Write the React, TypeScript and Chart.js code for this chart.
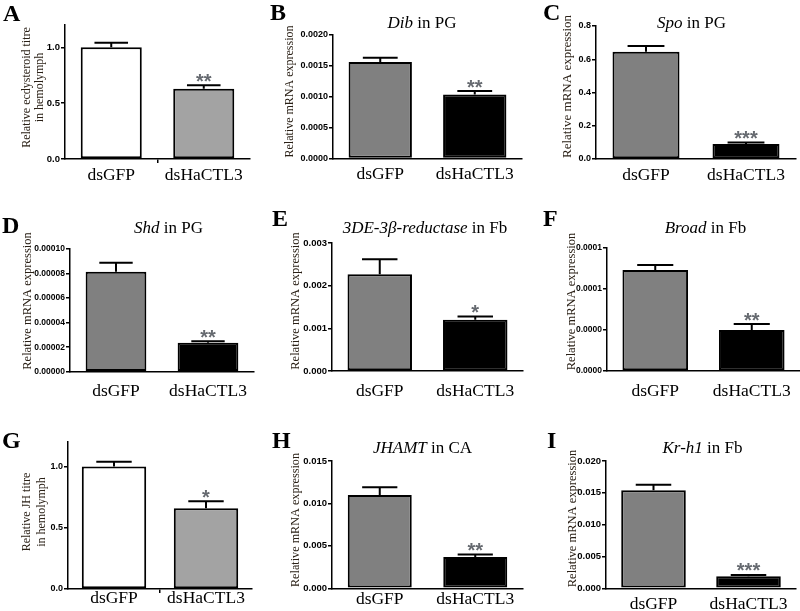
import React, { useEffect, useRef } from "react";
import { Chart, registerables } from "chart.js";

Chart.register(...registerables);

const SERIF = "'Liberation Serif', 'Times New Roman', serif";
const SANS = "'Liberation Sans', Arial, sans-serif";

// ---- data ----
const categories = ["dsGFP", "dsHaCTL3"];

const ecdysteroidTitre = [1.0, 0.63];
const ecdysteroidSem = [0.04, 0.03];
const ecdysteroidSig = ["", "**"];

const dibPG = [0.001562, 0.001038];
const dibPGSem = [0.00007, 0.000054];
const dibPGSig = ["", "**"];

const spoPG = [0.645, 0.09];
const spoPGSem = [0.035, 0.01];
const spoPGSig = ["", "***"];

const shdPG = [0.0000815, 0.0000236];
const shdPGSem = [0.0000073, 0.0000012];
const shdPGSig = ["", "**"];

const reductaseFb = [0.00227, 0.0012];
const reductaseFbSem = [0.00035, 0.00008];
const reductaseFbSig = ["", "*"];

const broadFb = [0.0001232, 0.00005];
const broadFbSem = [0.0000061, 0.0000073];
const broadFbSig = ["", "**"];

const jhTitre = [1.0, 0.66];
const jhTitreSem = [0.038, 0.056];
const jhTitreSig = ["", "*"];

const jhamtCA = [0.011, 0.0037];
const jhamtCASem = [0.0009, 0.00028];
const jhamtCASig = ["", "**"];

const krh1Fb = [0.0154, 0.0019];
const krh1FbSem = [0.00085, 0.0002];
const krh1FbSig = ["", "***"];

const ticksTitre = [0, 0.5, 1.0];
const labelsTitre = ["0.0", "0.5", "1.0"];
const ticksDib = [0, 0.0005, 0.001, 0.0015, 0.002];
const labelsDib = ["0.0000", "0.0005", "0.0010", "0.0015", "0.0020"];
const ticksSpo = [0, 0.2, 0.4, 0.6, 0.8];
const labelsSpo = ["0.0", "0.2", "0.4", "0.6", "0.8"];
const ticksShd = [0, 0.00002, 0.00004, 0.00006, 0.00008, 0.0001];
const labelsShd = ["0.00000", "0.00002", "0.00004", "0.00006", "0.00008", "0.00010"];
const ticksReductase = [0, 0.001, 0.002, 0.003];
const labelsReductase = ["0.000", "0.001", "0.002", "0.003"];
const ticksBroad = [0, 0.00005, 0.0001, 0.00015];
const labelsBroad = ["0.0000", "0.0000", "0.0001", "0.0001"];
const ticksJhamt = [0, 0.005, 0.01, 0.015];
const labelsJhamt = ["0.000", "0.005", "0.010", "0.015"];
const ticksKrh1 = [0, 0.005, 0.01, 0.015, 0.02];
const labelsKrh1 = ["0.000", "0.005", "0.010", "0.015", "0.020"];

const titreColors = ["#ffffff", "#a3a3a3"];
const mrnaColors = ["#808080", "#000000"];

type Panel = {
  letter: string;
  letterPos: [number, number];
  titleItalic?: string;
  titleRest?: string;
  titlePos?: [number, number];
  yTitle: string[];
  yTitlePos: [number, number];
  yTitleSize: number;
  yTitleLh: number;
  values: number[];
  sem: number[];
  sig: string[];
  colors: string[];
  yMax: number;
  yTicks: number[];
  yLabels: string[];
  cell: [number, number, number, number];
  area: [number, number, number, number];
  barPct: number;
  tickSize: number;
  xPad: number;
  midTick: boolean;
};

const panels: Panel[] = [
  {
    letter: "A", letterPos: [3, 21],
    yTitle: ["Relative ecdysteroid titre", "in hemolymph"], yTitlePos: [33.5, 87.5], yTitleSize: 12, yTitleLh: 13,
    values: ecdysteroidTitre, sem: ecdysteroidSem, sig: ecdysteroidSig, colors: titreColors,
    yMax: 1.2, yTicks: ticksTitre, yLabels: labelsTitre,
    cell: [0, 0, 265, 200], area: [65, 25, 250, 159], barPct: 0.66, tickSize: 9.5, xPad: 2, midTick: true,
  },
  {
    letter: "B", letterPos: [270, 20], titleItalic: "Dib", titleRest: " in PG", titlePos: [422, 28],
    yTitle: ["Relative mRNA expression"], yTitlePos: [290, 91.5], yTitleSize: 12, yTitleLh: 13,
    values: dibPG, sem: dibPGSem, sig: dibPGSig, colors: mrnaColors,
    yMax: 0.002, yTicks: ticksDib, yLabels: labelsDib,
    cell: [265, 0, 265, 200], area: [333, 35, 522, 158.5], barPct: 0.67, tickSize: 9, xPad: 1.5, midTick: false,
  },
  {
    letter: "C", letterPos: [543, 20], titleItalic: "Spo", titleRest: " in PG", titlePos: [691.5, 28],
    yTitle: ["Relative mRNA expression"], yTitlePos: [567.5, 86.5], yTitleSize: 13, yTitleLh: 13,
    values: spoPG, sem: spoPGSem, sig: spoPGSig, colors: mrnaColors,
    yMax: 0.8, yTicks: ticksSpo, yLabels: labelsSpo,
    cell: [530, 0, 270, 200], area: [596, 26, 796, 159], barPct: 0.67, tickSize: 9, xPad: 2, midTick: false,
  },
  {
    letter: "D", letterPos: [2, 233], titleItalic: "Shd", titleRest: " in PG", titlePos: [168.5, 233],
    yTitle: ["Relative mRNA expression"], yTitlePos: [27.5, 301], yTitleSize: 12.5, yTitleLh: 13,
    values: shdPG, sem: shdPGSem, sig: shdPGSig, colors: mrnaColors,
    yMax: 0.0001, yTicks: ticksShd, yLabels: labelsShd,
    cell: [0, 200, 265, 200], area: [70, 249, 254, 371.7], barPct: 0.66, tickSize: 8.5, xPad: 5, midTick: false,
  },
  {
    letter: "E", letterPos: [272, 226], titleItalic: "3DE-3\u03b2-reductase", titleRest: " in Fb", titlePos: [425, 233],
    yTitle: ["Relative mRNA expression"], yTitlePos: [296, 301], yTitleSize: 12.5, yTitleLh: 13,
    values: reductaseFb, sem: reductaseFbSem, sig: reductaseFbSig, colors: mrnaColors,
    yMax: 0.003, yTicks: ticksReductase, yLabels: labelsReductase,
    cell: [265, 200, 265, 200], area: [332, 243, 523, 371], barPct: 0.675, tickSize: 9.5, xPad: 6, midTick: false,
  },
  {
    letter: "F", letterPos: [543, 226], titleItalic: "Broad", titleRest: " in Fb", titlePos: [705.5, 233],
    yTitle: ["Relative mRNA expression"], yTitlePos: [571.5, 301.5], yTitleSize: 12.5, yTitleLh: 13,
    values: broadFb, sem: broadFbSem, sig: broadFbSig, colors: mrnaColors,
    yMax: 0.00015, yTicks: ticksBroad, yLabels: labelsBroad,
    cell: [530, 200, 270, 200], area: [607, 248, 800, 371], barPct: 0.68, tickSize: 8.5, xPad: 6, midTick: false,
  },
  {
    letter: "G", letterPos: [2, 448],
    yTitle: ["Relative JH titre", "in hemolymph"], yTitlePos: [34.2, 512], yTitleSize: 12, yTitleLh: 15,
    values: jhTitre, sem: jhTitreSem, sig: jhTitreSig, colors: titreColors,
    yMax: 1.2, yTicks: ticksTitre, yLabels: labelsTitre,
    cell: [0, 400, 265, 211], area: [68, 442, 252, 589], barPct: 0.7, tickSize: 9, xPad: -5, midTick: true,
  },
  {
    letter: "H", letterPos: [272, 448], titleItalic: "JHAMT", titleRest: " in CA", titlePos: [422.5, 453],
    yTitle: ["Relative mRNA expression"], yTitlePos: [296, 520], yTitleSize: 12.2, yTitleLh: 13,
    values: jhamtCA, sem: jhamtCASem, sig: jhamtCASig, colors: mrnaColors,
    yMax: 0.015, yTicks: ticksJhamt, yLabels: labelsJhamt,
    cell: [265, 400, 265, 211], area: [332, 461, 523, 588.3], barPct: 0.67, tickSize: 9.5, xPad: -3, midTick: false,
  },
  {
    letter: "I", letterPos: [547, 448], titleItalic: "Kr-h1", titleRest: " in Fb", titlePos: [702.5, 453],
    yTitle: ["Relative mRNA expression"], yTitlePos: [572.5, 518.5], yTitleSize: 12.5, yTitleLh: 13,
    values: krh1Fb, sem: krh1FbSem, sig: krh1FbSig, colors: mrnaColors,
    yMax: 0.02, yTicks: ticksKrh1, yLabels: labelsKrh1,
    cell: [530, 400, 270, 211], area: [606, 461, 796, 588.3], barPct: 0.68, tickSize: 9.5, xPad: 2, midTick: false,
  },
];

function overlayPlugin(p: Panel) {
  return {
    id: "overlay" + p.letter,
    afterDatasetsDraw(chart: any) {
      const ctx: CanvasRenderingContext2D = chart.ctx;
      const ys = chart.scales.y;
      const meta = chart.getDatasetMeta(0);
      const ox = p.cell[0];
      const oy = p.cell[1];
      ctx.save();
      // error bars + significance
      meta.data.forEach((bar: any, i: number) => {
        const { x, width } = bar.getProps(["x", "width"], true);
        const base = ys.getPixelForValue(p.values[i]);
        const top = ys.getPixelForValue(p.values[i] + p.sem[i]);
        const cap = width * 0.55;
        ctx.strokeStyle = "#000";
        ctx.lineWidth = 2;
        ctx.beginPath();
        ctx.moveTo(x, base);
        ctx.lineTo(x, top);
        ctx.moveTo(x - cap / 2, top);
        ctx.lineTo(x + cap / 2, top);
        ctx.stroke();
        if (p.sig[i]) {
          ctx.fillStyle = "#666a70";
          ctx.font = `bold 20px ${SANS}`;
          ctx.textAlign = "center";
          ctx.textBaseline = "alphabetic";
          ctx.fillText(p.sig[i], x, top + 2.5);
        }
      });
      // panel letter
      ctx.fillStyle = "#000";
      ctx.font = `bold 24px ${SERIF}`;
      ctx.textAlign = "left";
      ctx.textBaseline = "alphabetic";
      ctx.fillText(p.letter, p.letterPos[0] - ox, p.letterPos[1] - oy);
      // title
      if (p.titleItalic && p.titlePos) {
        const fi = `italic 17px ${SERIF}`;
        const fr = `17px ${SERIF}`;
        ctx.font = fi;
        const wi = ctx.measureText(p.titleItalic).width;
        ctx.font = fr;
        const wr = ctx.measureText(p.titleRest || "").width;
        const sx = p.titlePos[0] - ox - (wi + wr) / 2;
        const by = p.titlePos[1] - oy;
        ctx.font = fi;
        ctx.fillText(p.titleItalic, sx, by);
        ctx.font = fr;
        ctx.fillText(p.titleRest || "", sx + wi, by);
      }
      // y title
      ctx.save();
      ctx.translate(p.yTitlePos[0] - ox, p.yTitlePos[1] - oy);
      ctx.rotate(-Math.PI / 2);
      ctx.fillStyle = "#2a2016";
      ctx.font = `${p.yTitleSize}px ${SERIF}`;
      ctx.textAlign = "center";
      ctx.textBaseline = "middle";
      const n = p.yTitle.length;
      p.yTitle.forEach((line, i) => {
        ctx.fillText(line, 0, (i - (n - 1) / 2) * p.yTitleLh);
      });
      ctx.restore();
      ctx.restore();
    },
  };
}

function makeConfig(p: Panel): any {
  const [cx, cy, cw, ch] = p.cell;
  const [al, at, ar, ab] = p.area;
  return {
    type: "bar",
    data: {
      labels: categories,
      datasets: [
        {
          data: p.values,
          backgroundColor: p.colors,
          borderColor: "#000",
          borderWidth: 2,
          borderSkipped: false,
          barPercentage: p.barPct,
          categoryPercentage: 1,
        },
      ],
    },
    options: {
      responsive: false,
      maintainAspectRatio: false,
      animation: false,
      devicePixelRatio: 1,
      layout: { padding: { left: 0, top: at - cy, right: cx + cw - ar, bottom: 0 } },
      plugins: { legend: { display: false }, tooltip: { enabled: false }, title: { display: false } },
      scales: {
        x: {
          offset: true,
          grid: {
            display: true,
            offset: true,
            drawOnChartArea: false,
            drawTicks: true,
            tickLength: 4,
            lineWidth: 1.5,
            color: (c: any) => (p.midTick && c.index === 1 ? "#000" : "rgba(0,0,0,0)"),
          },
          border: { display: true, color: "#000", width: 1.5 },
          ticks: {
            color: "#000",
            font: { family: SERIF, size: 17.5 },
            padding: p.xPad,
            maxRotation: 0,
            autoSkip: false,
          },
          afterFit: (s: any) => {
            s.height = cy + ch - ab;
          },
        },
        y: {
          min: 0,
          max: p.yMax,
          afterBuildTicks: (s: any) => {
            s.ticks = p.yTicks.map((v) => ({ value: v }));
          },
          afterFit: (s: any) => {
            s.width = al - cx;
          },
          grid: { drawOnChartArea: false, drawTicks: true, tickLength: 4, color: "#000", lineWidth: 1.5 },
          border: { display: true, color: "#000", width: 1.5 },
          ticks: {
            color: "#000",
            font: { family: SANS, size: p.tickSize, weight: "bold" },
            padding: 1,
            callback: (_v: any, i: number) => p.yLabels[i],
          },
        },
      },
    },
    plugins: [overlayPlugin(p)],
  };
}

function PanelChart({ p }: { p: Panel }) {
  const ref = useRef<HTMLCanvasElement>(null);
  useEffect(() => {
    if (!ref.current) return;
    const chart = new Chart(ref.current, makeConfig(p));
    return () => chart.destroy();
  }, [p]);
  return (
    <canvas
      ref={ref}
      width={p.cell[2]}
      height={p.cell[3]}
      style={{ position: "absolute", left: p.cell[0], top: p.cell[1], width: p.cell[2], height: p.cell[3] }}
    />
  );
}

export default function App() {
  return (
    <div style={{ position: "fixed", left: 0, top: 0, width: 800, height: 611, background: "#fff", overflow: "hidden" }}>
      {panels.map((p) => (
        <PanelChart key={p.letter} p={p} />
      ))}
    </div>
  );
}
